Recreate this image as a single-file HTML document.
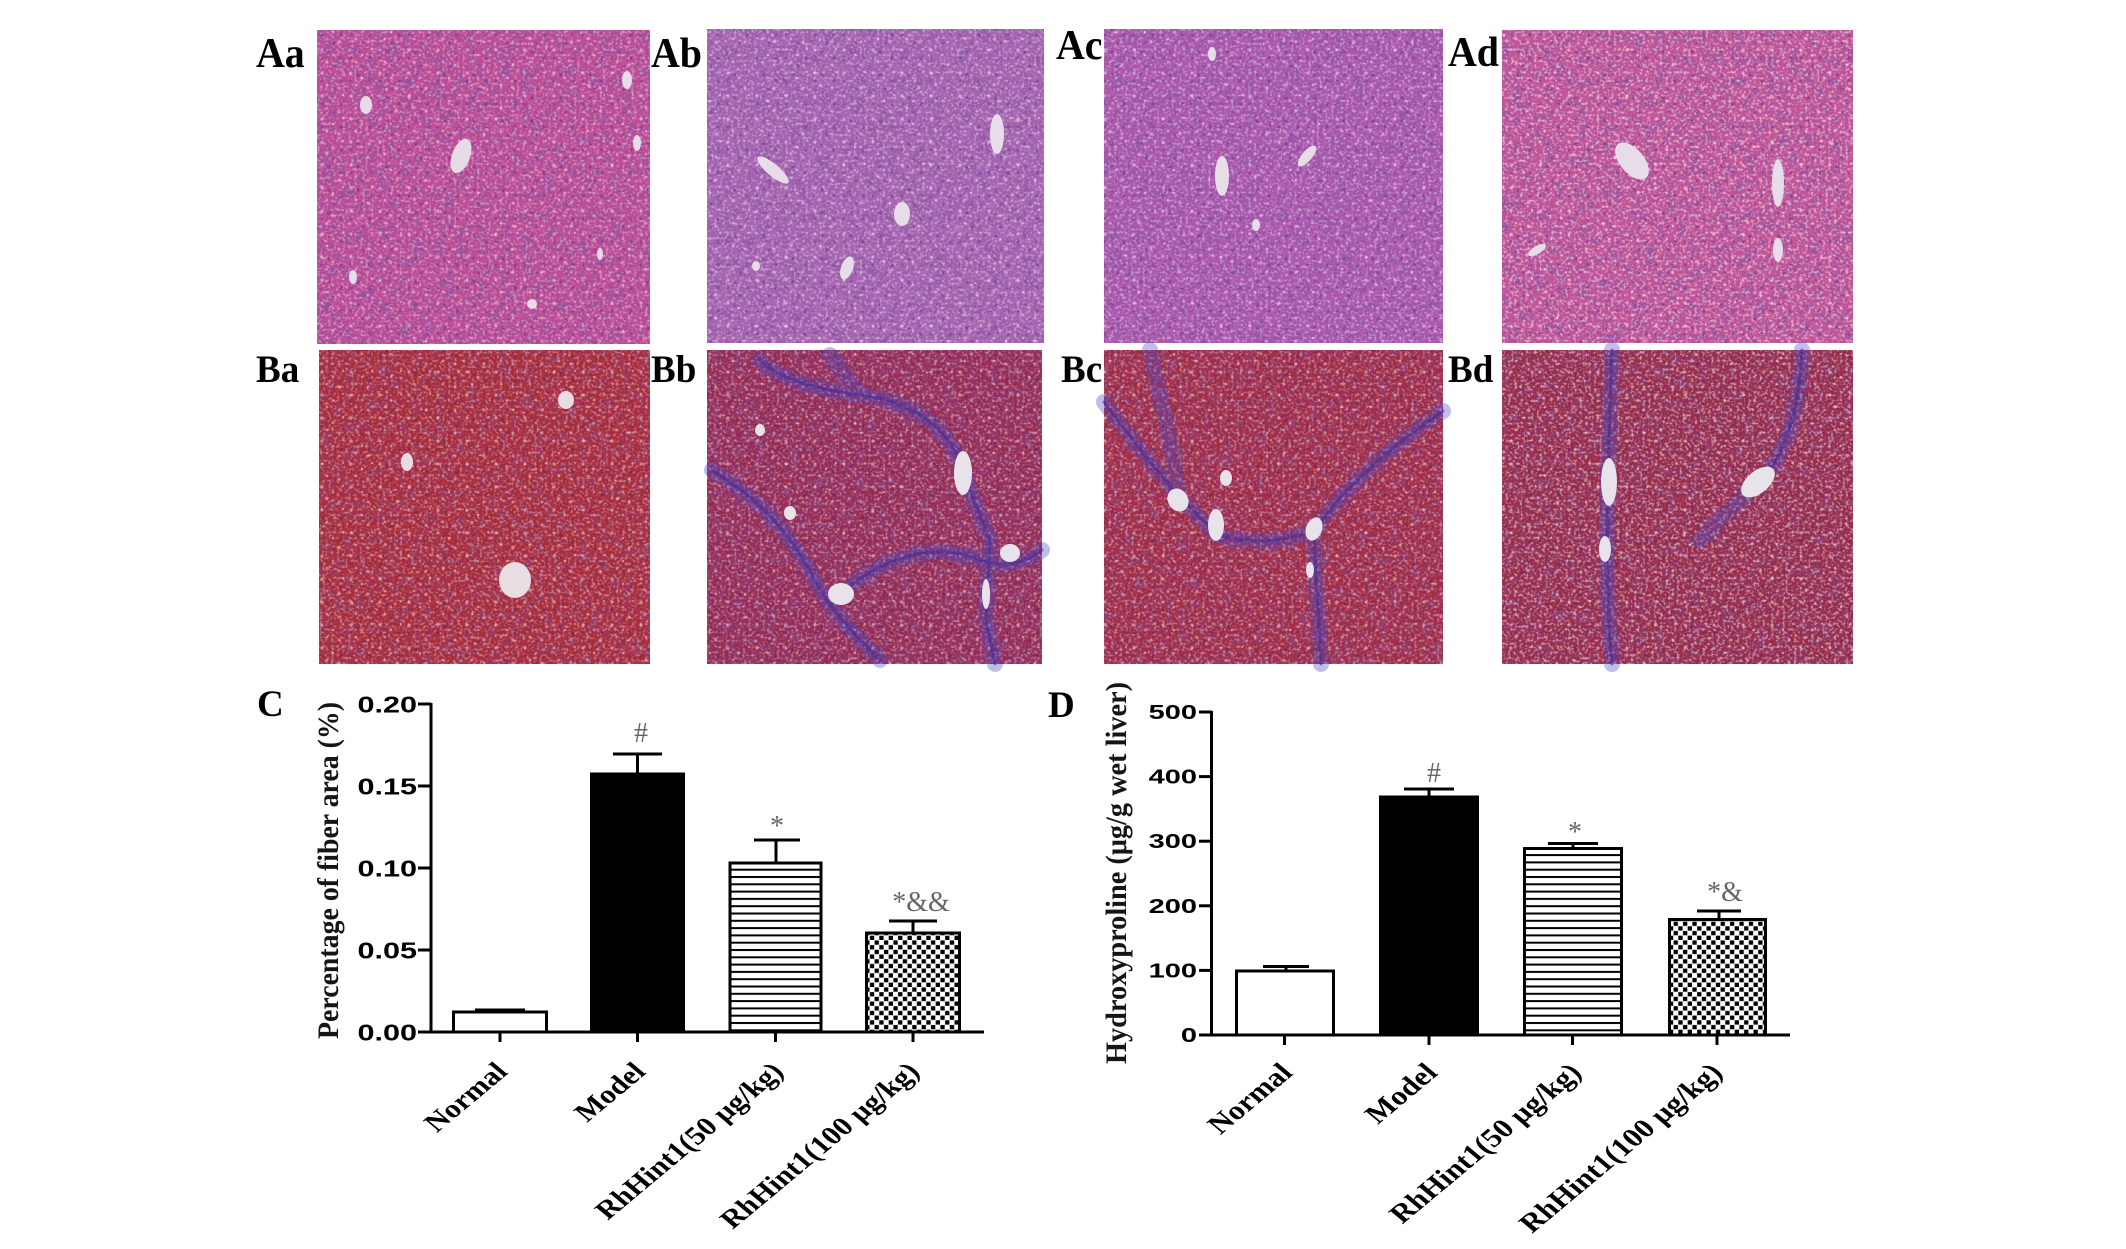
<!DOCTYPE html>
<html><head><meta charset="utf-8"><style>
html,body{margin:0;padding:0;background:#fff;}
svg{display:block;}
</style></head><body>
<svg width="2126" height="1249" viewBox="0 0 2126 1249" xmlns="http://www.w3.org/2000/svg">
<defs>
<pattern id="speck" width="29" height="23" patternUnits="userSpaceOnUse">
<circle cx="3" cy="4" r="1.6" fill="#fff" opacity=".45"/>
<circle cx="14" cy="9" r="1.3" fill="#fff" opacity=".4"/>
<circle cx="24" cy="3" r="1.2" fill="#fff" opacity=".35"/>
<circle cx="8" cy="16" r="1.4" fill="#fff" opacity=".4"/>
<circle cx="20" cy="19" r="1.5" fill="#fff" opacity=".4"/>
<circle cx="10" cy="6" r="1.7" fill="#402070" opacity=".35"/>
<circle cx="22" cy="12" r="1.7" fill="#402070" opacity=".35"/>
<circle cx="3" cy="12" r="1.5" fill="#402070" opacity=".3"/>
<circle cx="15" cy="20" r="1.6" fill="#402070" opacity=".3"/>
</pattern>
<filter id="mottle" x="0" y="0" width="100%" height="100%">
<feTurbulence type="fractalNoise" baseFrequency="0.09" numOctaves="3" seed="7"/>
<feColorMatrix type="matrix" values="0 0 0 0 0.25  0 0 0 0 0.08  0 0 0 0 0.35  1.6 0 0 0 -0.7"/>
</filter>
<filter id="lite" x="0" y="0" width="100%" height="100%">
<feTurbulence type="fractalNoise" baseFrequency="0.35" numOctaves="2" seed="3"/>
<feColorMatrix type="matrix" values="0 0 0 0 1  0 0 0 0 1  0 0 0 0 1  0 2.2 0 0 -1.05"/>
</filter>
<pattern id="stripes" width="10" height="7.3" patternUnits="userSpaceOnUse">
<rect width="10" height="7.3" fill="#fff"/>
<rect y="0" width="10" height="2" fill="#000"/>
</pattern>
<pattern id="checker" width="9.4" height="9.4" patternUnits="userSpaceOnUse">
<rect width="9.4" height="9.4" fill="#fff"/>
<rect x="0.4" y="0.4" width="4.3" height="4.3" fill="#000"/>
<rect x="5.1" y="5.1" width="4.3" height="4.3" fill="#000"/>
</pattern>
</defs>
<rect width="2126" height="1249" fill="#fff"/>

<!-- Photo panels row A -->
<g>
<rect x="317" y="30" width="333" height="314" fill="#bb4b95"/>
<rect x="317" y="30" width="333" height="314" fill="url(#speck)"/>
<rect x="317" y="30" width="333" height="314" filter="url(#mottle)"/>
<rect x="317" y="30" width="333" height="314" filter="url(#lite)" opacity=".6"/>
<g fill="#e6dbe6">
<ellipse cx="461" cy="156" rx="9" ry="18" transform="rotate(20 461 156)"/>
<ellipse cx="366" cy="105" rx="6" ry="9"/>
<ellipse cx="627" cy="80" rx="5" ry="9"/>
<ellipse cx="637" cy="143" rx="4" ry="8"/>
<ellipse cx="532" cy="304" rx="5" ry="5"/>
<ellipse cx="353" cy="277" rx="4" ry="7"/>
<ellipse cx="600" cy="254" rx="3" ry="6"/>
</g>

<rect x="707" y="29" width="337" height="314" fill="#a562b0"/>
<rect x="707" y="29" width="337" height="314" fill="url(#speck)"/>
<rect x="707" y="29" width="337" height="314" filter="url(#mottle)"/>
<rect x="707" y="29" width="337" height="314" filter="url(#lite)" opacity=".6"/>
<g fill="#e6dde8">
<ellipse cx="997" cy="134" rx="7" ry="20"/>
<ellipse cx="773" cy="170" rx="6" ry="20" transform="rotate(-50 773 170)"/>
<ellipse cx="902" cy="214" rx="8" ry="12"/>
<ellipse cx="847" cy="268" rx="6" ry="12" transform="rotate(20 847 268)"/>
<ellipse cx="756" cy="266" rx="4" ry="5"/>
</g>

<rect x="1104" y="29" width="339" height="314" fill="#aa56ac"/>
<rect x="1104" y="29" width="339" height="314" fill="url(#speck)"/>
<rect x="1104" y="29" width="339" height="314" filter="url(#mottle)"/>
<rect x="1104" y="29" width="339" height="314" filter="url(#lite)" opacity=".6"/>
<g fill="#e6dde8">
<ellipse cx="1222" cy="176" rx="7" ry="20"/>
<ellipse cx="1307" cy="156" rx="5" ry="13" transform="rotate(40 1307 156)"/>
<ellipse cx="1212" cy="54" rx="4" ry="7"/>
<ellipse cx="1256" cy="225" rx="4" ry="6"/>
</g>

<rect x="1502" y="30" width="351" height="313" fill="#c05396"/>
<rect x="1502" y="30" width="351" height="313" fill="url(#speck)"/>
<rect x="1502" y="30" width="351" height="313" filter="url(#mottle)"/>
<rect x="1502" y="30" width="351" height="313" filter="url(#lite)" opacity=".8"/>
<g fill="#e6dde8">
<ellipse cx="1632" cy="161" rx="12" ry="22" transform="rotate(-40 1632 161)"/>
<ellipse cx="1778" cy="183" rx="6" ry="24"/>
<ellipse cx="1778" cy="250" rx="5" ry="12"/>
<ellipse cx="1537" cy="250" rx="4" ry="10" transform="rotate(60 1537 250)"/>
</g>
</g>

<!-- Photo panels row B -->
<g>
<rect x="319" y="350" width="331" height="314" fill="#a82c3c"/>
<rect x="319" y="350" width="331" height="314" fill="url(#speck)"/>
<rect x="319" y="350" width="331" height="314" filter="url(#mottle)" opacity=".6"/>
<rect x="319" y="350" width="331" height="314" filter="url(#lite)" opacity=".6"/>
<g fill="#e8dde2">
<ellipse cx="515" cy="580" rx="16" ry="18"/>
<ellipse cx="566" cy="400" rx="8" ry="9"/>
<ellipse cx="407" cy="462" rx="6" ry="9"/>
</g>

<rect x="707" y="350" width="335" height="314" fill="#962c55"/>
<rect x="707" y="350" width="335" height="314" fill="url(#speck)"/>
<rect x="707" y="350" width="335" height="314" filter="url(#mottle)" opacity=".6"/>
<rect x="707" y="350" width="335" height="314" filter="url(#lite)" opacity=".6"/>
<g fill="none" stroke-linecap="round">
<g stroke="#4a48c0" stroke-width="16" opacity=".35">
<path d="M712,470 C760,500 790,530 820,590 C840,620 860,640 880,660"/>
<path d="M840,594 C880,560 930,540 980,560 C1010,570 1030,560 1042,550"/>
<path d="M963,473 C950,420 900,400 860,395 C820,390 780,380 760,360"/>
<path d="M963,473 L990,540 L986,620 L995,664"/>
<path d="M860,395 L830,355"/>
</g>
<g stroke="#3030a8" stroke-width="3" opacity=".55">
<path d="M712,470 C760,500 790,530 820,590 C840,620 860,640 880,660"/>
<path d="M840,594 C880,560 930,540 980,560 C1010,570 1030,560 1042,550"/>
<path d="M963,473 C950,420 900,400 860,395 C820,390 780,380 760,360"/>
<path d="M963,473 L990,540 L986,620 L995,664"/>
</g>
</g>
<g fill="#e8e2ea">
<ellipse cx="963" cy="473" rx="9" ry="22"/>
<ellipse cx="841" cy="594" rx="13" ry="11"/>
<ellipse cx="790" cy="513" rx="6" ry="7"/>
<ellipse cx="1010" cy="553" rx="10" ry="9"/>
<ellipse cx="986" cy="594" rx="4" ry="15"/>
<ellipse cx="760" cy="430" rx="5" ry="6"/>
</g>

<rect x="1104" y="350" width="339" height="314" fill="#a02c48"/>
<rect x="1104" y="350" width="339" height="314" fill="url(#speck)"/>
<rect x="1104" y="350" width="339" height="314" filter="url(#mottle)" opacity=".6"/>
<rect x="1104" y="350" width="339" height="314" filter="url(#lite)" opacity=".6"/>
<g fill="none" stroke-linecap="round">
<g stroke="#4a48c0" stroke-width="16" opacity=".35">
<path d="M1104,402 C1140,450 1170,490 1219,536 C1260,545 1290,540 1314,531 C1350,480 1400,440 1443,411"/>
<path d="M1314,531 C1315,580 1320,620 1321,664"/>
<path d="M1150,350 C1160,400 1175,450 1178,500"/>
</g>
<g stroke="#3030a8" stroke-width="3" opacity=".55">
<path d="M1104,402 C1140,450 1170,490 1219,536 C1260,545 1290,540 1314,531 C1350,480 1400,440 1443,411"/>
<path d="M1314,531 C1315,580 1320,620 1321,664"/>
</g>
</g>
<g fill="#e8e2ea">
<ellipse cx="1178" cy="500" rx="10" ry="12" transform="rotate(-30 1178 500)"/>
<ellipse cx="1216" cy="525" rx="8" ry="16"/>
<ellipse cx="1314" cy="529" rx="8" ry="12" transform="rotate(20 1314 529)"/>
<ellipse cx="1226" cy="478" rx="6" ry="8"/>
<ellipse cx="1310" cy="570" rx="4" ry="8"/>
</g>

<rect x="1502" y="350" width="351" height="314" fill="#982c4c"/>
<rect x="1502" y="350" width="351" height="314" fill="url(#speck)"/>
<rect x="1502" y="350" width="351" height="314" filter="url(#mottle)" opacity=".6"/>
<rect x="1502" y="350" width="351" height="314" filter="url(#lite)" opacity=".8"/>
<g fill="none" stroke-linecap="round">
<g stroke="#4a48c0" stroke-width="16" opacity=".35">
<path d="M1612,350 C1610,420 1605,500 1609,625 L1612,664"/>
<path d="M1802,350 C1800,400 1790,440 1770,470 C1740,500 1720,520 1700,540"/>
</g>
<g stroke="#3030a8" stroke-width="3" opacity=".55">
<path d="M1612,350 C1610,420 1605,500 1609,625 L1612,664"/>
<path d="M1802,350 C1800,400 1790,440 1770,470"/>
</g>
</g>
<g fill="#e8e2ea">
<ellipse cx="1609" cy="482" rx="8" ry="24"/>
<ellipse cx="1605" cy="549" rx="6" ry="13"/>
<ellipse cx="1758" cy="482" rx="20" ry="11" transform="rotate(-40 1758 482)"/>
</g>
</g>

<!-- Panel labels -->
<g font-family="'Liberation Serif', serif" font-weight="bold" fill="#000">
<text transform="translate(256,67) scale(0.95,1)" font-size="42">Aa</text>
<text transform="translate(651,67) scale(0.95,1)" font-size="42">Ab</text>
<text transform="translate(1056,59) scale(0.95,1)" font-size="42">Ac</text>
<text transform="translate(1448,66) scale(0.95,1)" font-size="42">Ad</text>
<text transform="translate(256,382) scale(0.95,1)" font-size="39">Ba</text>
<text transform="translate(651,382) scale(0.95,1)" font-size="39">Bb</text>
<text transform="translate(1061,382) scale(0.95,1)" font-size="39">Bc</text>
<text transform="translate(1448,382) scale(0.95,1)" font-size="39">Bd</text>
<text x="257" y="716" font-size="37">C</text>
<text x="1048" y="717" font-size="37">D</text>
</g>

<!-- Chart C -->
<g stroke="#000" stroke-width="3" fill="none">
<line x1="431" y1="703" x2="431" y2="1033"/>
<line x1="418" y1="704" x2="431" y2="704"/>
<line x1="418" y1="786" x2="431" y2="786"/>
<line x1="418" y1="868" x2="431" y2="868"/>
<line x1="418" y1="950" x2="431" y2="950"/>
<line x1="418" y1="1032" x2="431" y2="1032"/>
<line x1="430" y1="1032" x2="984" y2="1032"/>
<line x1="500" y1="1032" x2="500" y2="1042"/>
<line x1="637.5" y1="1032" x2="637.5" y2="1042"/>
<line x1="775.5" y1="1032" x2="775.5" y2="1042"/>
<line x1="913" y1="1032" x2="913" y2="1042"/>
<!-- error bars -->
<line x1="475" y1="1010" x2="525" y2="1010"/>
<line x1="637.5" y1="754" x2="637.5" y2="774"/>
<line x1="613" y1="754" x2="662" y2="754"/>
<line x1="776" y1="840" x2="776" y2="863"/>
<line x1="754" y1="840" x2="800" y2="840"/>
<line x1="913" y1="921" x2="913" y2="933"/>
<line x1="889" y1="921" x2="937" y2="921"/>
<!-- bars -->
<rect x="453.5" y="1012" width="93" height="20" fill="#fff"/>
<rect x="591.5" y="774" width="92" height="258" fill="#000"/>
<rect x="730" y="863" width="91" height="169" fill="url(#stripes)"/>
<rect x="866.5" y="933" width="93" height="99" fill="url(#checker)"/>
</g>
<g font-family="'Liberation Sans', Arial, sans-serif" font-weight="bold" font-size="23" fill="#000" text-anchor="end">
<text transform="translate(417,712.5) scale(1.33,1)">0.20</text>
<text transform="translate(417,794.5) scale(1.33,1)">0.15</text>
<text transform="translate(417,876.5) scale(1.33,1)">0.10</text>
<text transform="translate(417,958.5) scale(1.33,1)">0.05</text>
<text transform="translate(417,1040.5) scale(1.33,1)">0.00</text>
</g>
<text transform="translate(338,870.5) rotate(-90)" text-anchor="middle" font-family="'Liberation Serif', serif" font-weight="bold" font-size="30" textLength="337" lengthAdjust="spacingAndGlyphs" fill="#151515">Percentage of fiber area (%)</text>
<g font-family="'Liberation Serif', serif" font-size="28" fill="#666" text-anchor="middle">
<text x="641" y="742">#</text>
<text x="777" y="835">*</text>
<text x="921" y="911">*&amp;&amp;</text>
</g>
<g font-family="'Liberation Serif', serif" font-weight="bold" font-size="26" fill="#000" text-anchor="end">
<text transform="translate(509,1073) scale(1.2,1) rotate(-45)">Normal</text>
<text transform="translate(647,1073) scale(1.2,1) rotate(-45)">Model</text>
<text transform="translate(785,1073) scale(1.2,1) rotate(-45)">RhHint1(50 μg/kg)</text>
<text transform="translate(921,1073) scale(1.2,1) rotate(-45)">RhHint1(100 μg/kg)</text>
</g>

<!-- Chart D -->
<g stroke="#000" stroke-width="3" fill="none">
<line x1="1211.5" y1="711" x2="1211.5" y2="1036"/>
<line x1="1199" y1="712" x2="1212" y2="712"/>
<line x1="1199" y1="776.6" x2="1212" y2="776.6"/>
<line x1="1199" y1="841.2" x2="1212" y2="841.2"/>
<line x1="1199" y1="905.8" x2="1212" y2="905.8"/>
<line x1="1199" y1="970.4" x2="1212" y2="970.4"/>
<line x1="1199" y1="1035" x2="1212" y2="1035"/>
<line x1="1210" y1="1035" x2="1790" y2="1035"/>
<line x1="1284.5" y1="1035" x2="1284.5" y2="1045"/>
<line x1="1429" y1="1035" x2="1429" y2="1045"/>
<line x1="1572.5" y1="1035" x2="1572.5" y2="1045"/>
<line x1="1717" y1="1035" x2="1717" y2="1045"/>
<!-- error bars -->
<line x1="1286" y1="966.5" x2="1286" y2="971"/>
<line x1="1263" y1="966.5" x2="1309" y2="966.5"/>
<line x1="1429" y1="789" x2="1429" y2="797"/>
<line x1="1404" y1="789" x2="1454" y2="789"/>
<line x1="1573" y1="843.5" x2="1573" y2="848.5"/>
<line x1="1548" y1="843.5" x2="1598" y2="843.5"/>
<line x1="1719" y1="911" x2="1719" y2="919.5"/>
<line x1="1697" y1="911" x2="1741" y2="911"/>
<!-- bars -->
<rect x="1236.5" y="971" width="97" height="64" fill="#fff"/>
<rect x="1380.5" y="797" width="97" height="238" fill="#000"/>
<rect x="1524.5" y="848.5" width="97" height="186.5" fill="url(#stripes)"/>
<rect x="1669.5" y="919.5" width="96" height="115.5" fill="url(#checker)"/>
</g>
<g font-family="'Liberation Sans', Arial, sans-serif" font-weight="bold" font-size="20" fill="#000" text-anchor="end">
<text transform="translate(1197,719) scale(1.45,1)">500</text>
<text transform="translate(1197,783.6) scale(1.45,1)">400</text>
<text transform="translate(1197,848.2) scale(1.45,1)">300</text>
<text transform="translate(1197,912.8) scale(1.45,1)">200</text>
<text transform="translate(1197,977.4) scale(1.45,1)">100</text>
<text transform="translate(1197,1042) scale(1.45,1)">0</text>
</g>
<text transform="translate(1126,873) rotate(-90)" text-anchor="middle" font-family="'Liberation Serif', serif" font-weight="bold" font-size="30" textLength="382" lengthAdjust="spacingAndGlyphs" fill="#151515">Hydroxyproline (μg/g wet liver)</text>
<g font-family="'Liberation Serif', serif" font-size="28" fill="#666" text-anchor="middle">
<text x="1434" y="782">#</text>
<text x="1575" y="841">*</text>
<text x="1725" y="901">*&amp;</text>
</g>
<g font-family="'Liberation Serif', serif" font-weight="bold" font-size="26.5" fill="#000" text-anchor="end">
<text transform="translate(1294,1074) scale(1.2,1) rotate(-45)">Normal</text>
<text transform="translate(1439,1074) scale(1.2,1) rotate(-45)">Model</text>
<text transform="translate(1583,1074) scale(1.2,1) rotate(-45)">RhHint1(50 μg/kg)</text>
<text transform="translate(1724,1074) scale(1.2,1) rotate(-45)">RhHint1(100 μg/kg)</text>
</g>
</svg>
</body></html>
